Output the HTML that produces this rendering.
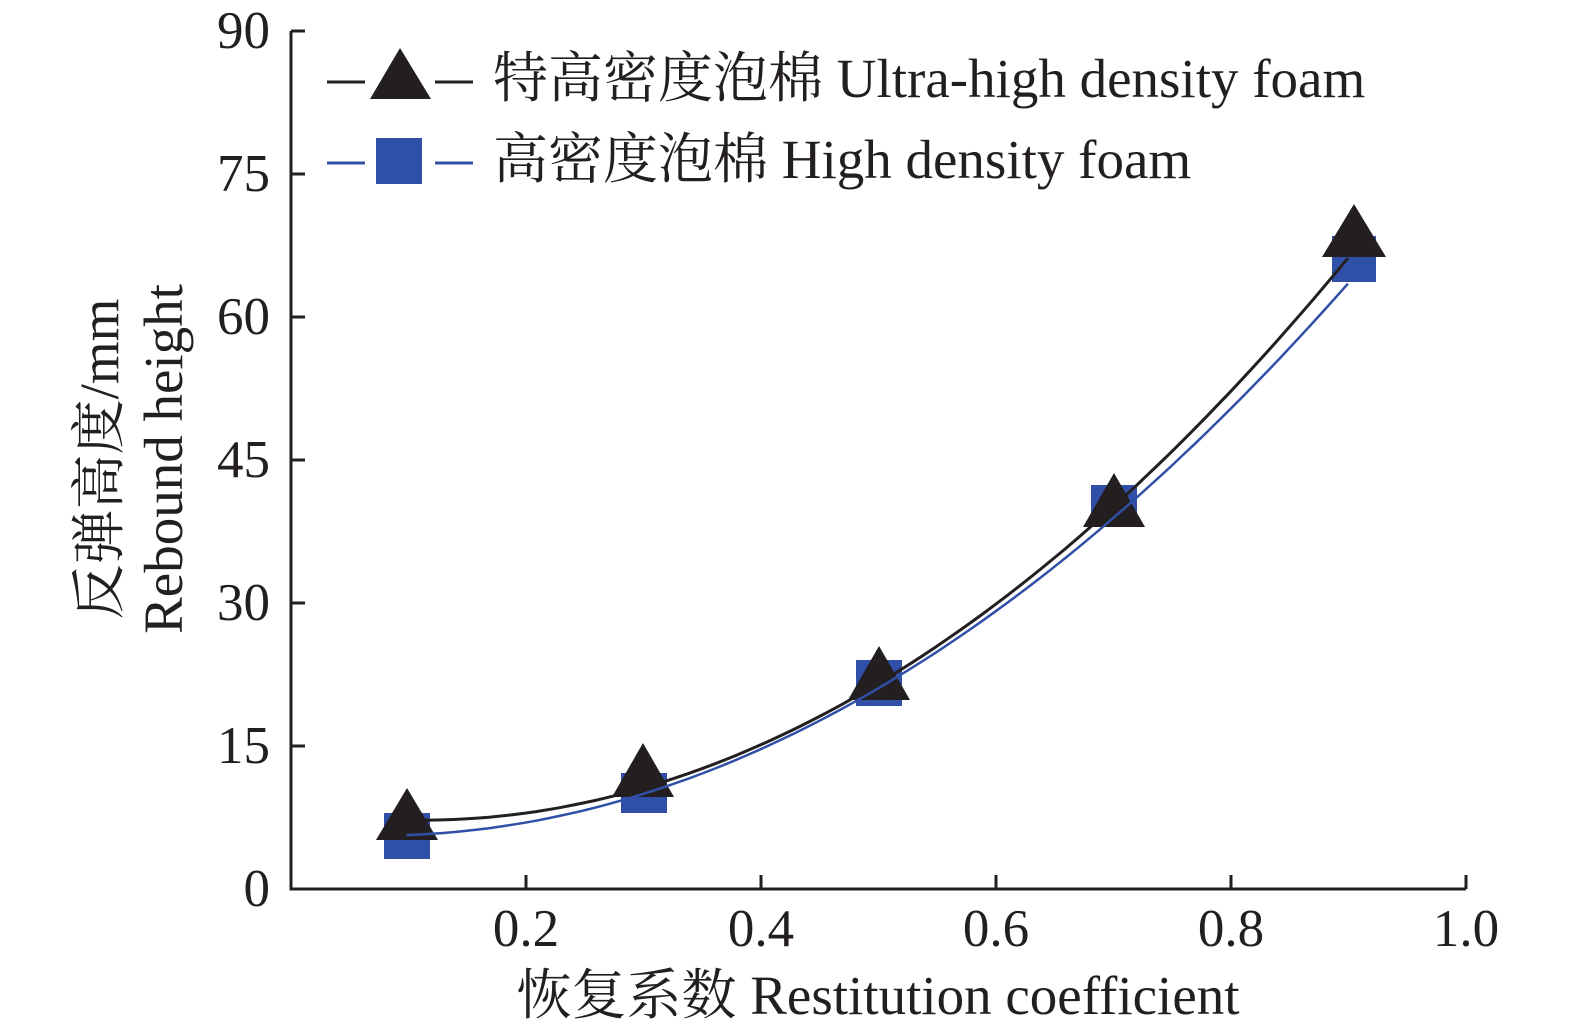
<!DOCTYPE html>
<html><head><meta charset="utf-8"><style>
html,body{margin:0;padding:0;background:#fff;}
svg{display:block;}
text{font-family:"Liberation Serif","Noto Serif CJK SC","Noto Sans CJK SC",serif;fill:#231f20;}
</style></head><body>
<svg width="1575" height="1036" viewBox="0 0 1575 1036" xmlns="http://www.w3.org/2000/svg">
<g stroke="#231f20" stroke-width="3" fill="none">
<polyline points="291,31 291,889 1466,889"/>
<line x1="291" y1="31" x2="305" y2="31"/>
<line x1="291" y1="174" x2="305" y2="174"/>
<line x1="291" y1="317" x2="305" y2="317"/>
<line x1="291" y1="460" x2="305" y2="460"/>
<line x1="291" y1="603" x2="305" y2="603"/>
<line x1="291" y1="746" x2="305" y2="746"/>
<line x1="526" y1="889" x2="526" y2="875"/>
<line x1="761" y1="889" x2="761" y2="875"/>
<line x1="996" y1="889" x2="996" y2="875"/>
<line x1="1231" y1="889" x2="1231" y2="875"/>
<line x1="1466" y1="889" x2="1466" y2="875"/>
</g>
<g font-size="53" text-anchor="end">
<text x="270" y="48">90</text>
<text x="270" y="191">75</text>
<text x="270" y="334">60</text>
<text x="270" y="477">45</text>
<text x="270" y="620">30</text>
<text x="270" y="763">15</text>
<text x="270" y="906">0</text>
</g>
<g font-size="53" text-anchor="middle">
<text x="526" y="946">0.2</text>
<text x="761" y="946">0.4</text>
<text x="996" y="946">0.6</text>
<text x="1231" y="946">0.8</text>
<text x="1466" y="946">1.0</text>
</g>
<g font-size="55" text-anchor="middle">
<text x="878" y="1014">恢复系数 Restitution coefficient</text>
<text transform="translate(118,459) rotate(-90)">反弹高度/mm</text>
<text transform="translate(182,459) rotate(-90)">Rebound height</text>
</g>
<g fill="#3050a8">
<rect x="384" y="813" width="46" height="46"/>
<rect x="621" y="773" width="46" height="40"/>
<rect x="856" y="660" width="46" height="46"/>
<rect x="1091" y="485" width="46" height="42"/>
<rect x="1332" y="236" width="44" height="46"/>
</g>
<g fill="#231f20">
<polygon points="407,788 376,840 438,840"/>
<polygon points="643,743 612,797 674,797"/>
<polygon points="879,646 848,700 910,700"/>
<polygon points="1114,473 1083,527 1145,527"/>
<polygon points="1354,204 1322,257 1386,257"/>
</g>
<polyline id="bl" fill="none" stroke="#231f20" stroke-width="3"/>
<polyline id="bu" fill="none" stroke="#3050a8" stroke-width="2.5"/>
<g>
<line x1="327" y1="82" x2="365" y2="82" stroke="#231f20" stroke-width="3"/>
<line x1="435" y1="82" x2="473" y2="82" stroke="#231f20" stroke-width="3"/>
<polygon points="400,48 370,99 431,99" fill="#231f20"/>
<line x1="327" y1="163" x2="365" y2="163" stroke="#3050a8" stroke-width="3"/>
<line x1="435" y1="163" x2="473" y2="163" stroke="#3050a8" stroke-width="3"/>
<rect x="376" y="138" width="46" height="46" fill="#3050a8"/>
<text x="493" y="97" font-size="55">特高密度泡棉 Ultra-high density foam</text>
<text x="493" y="178" font-size="55">高密度泡棉 High density foam</text>
</g>
<script>
function pts(a,b,c){var s=[];for(var i=0;i<=80;i++){var x=0.1+0.8*i/80;var v=a*x*x+b*x+c;s.push((289+x*1176.5).toFixed(1)+","+(889-v*9.533).toFixed(1));}return s.join(" ");}
document.getElementById("bl").setAttribute("points",pts(95.1,-21.43,8.43));
document.getElementById("bu").setAttribute("points",pts(84.9,-12.6,6.07));
</script>
</svg>
</body></html>
